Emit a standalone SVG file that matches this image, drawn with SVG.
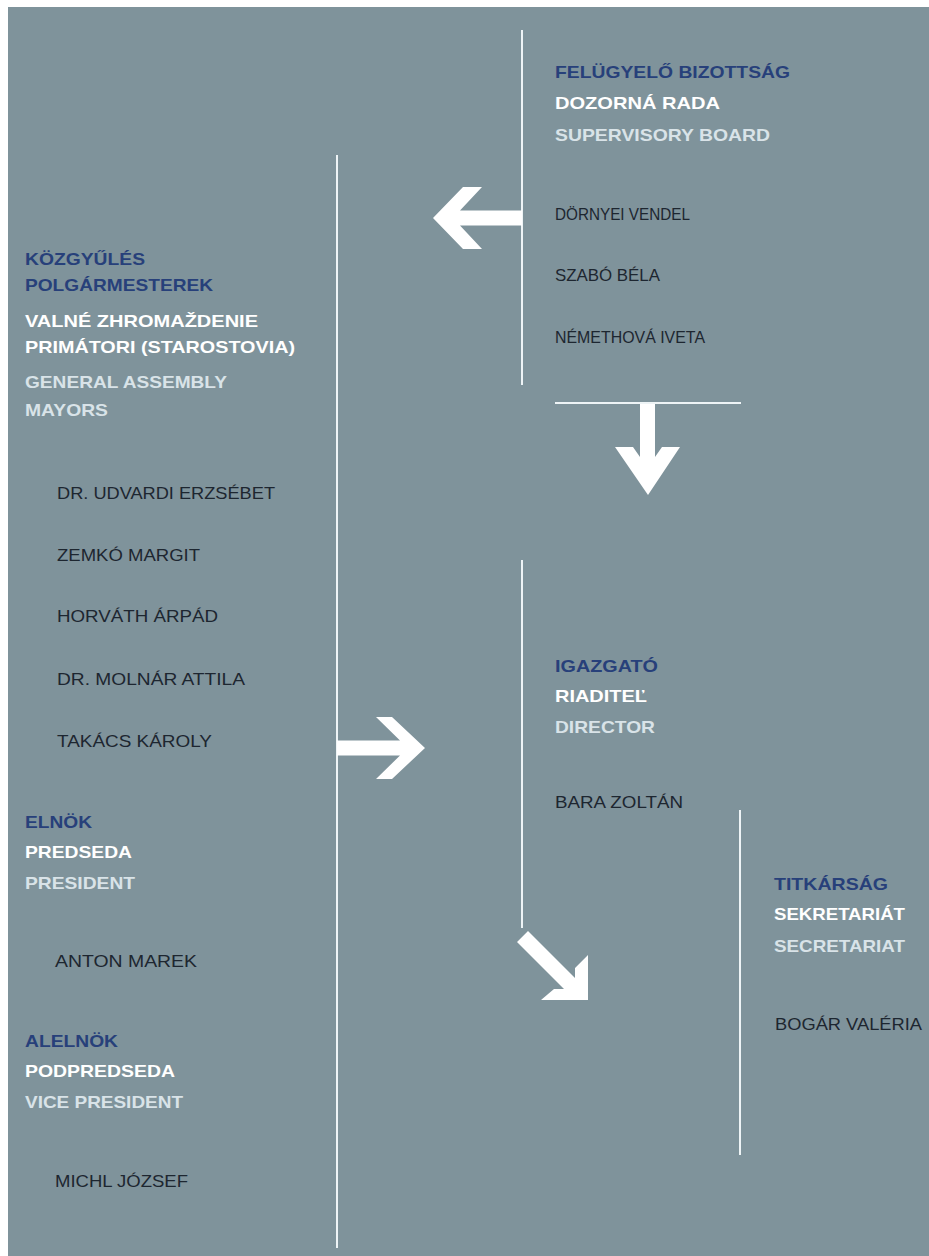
<svg xmlns="http://www.w3.org/2000/svg" width="929" height="1256" viewBox="0 0 929 1256">
<style>
text{font-family:"Liberation Sans",Arial,sans-serif;font-size:17px}
.h1{font-weight:bold;fill:#27407a}
.h2{font-weight:bold;fill:#ffffff}
.h3{font-weight:bold;fill:#d9e3e8}
.nm{fill:#1d2630}
.ln{stroke:#eef4f6;stroke-width:2;fill:none}
.ar{fill:#ffffff}
</style>
<rect width="929" height="1256" fill="#ffffff"/>
<rect x="8" y="7" width="921" height="1249" fill="#7f939b"/>
<g id="connectors">
<line class="ln" x1="522" y1="30" x2="522" y2="385"/>
<line class="ln" x1="337" y1="155" x2="337" y2="1248"/>
<line class="ln" x1="555" y1="403" x2="741" y2="403"/>
<line class="ln" x1="522" y1="560" x2="522" y2="928"/>
<line class="ln" x1="740" y1="810" x2="740" y2="1155"/>
<polygon class="ar" points="433,218 463,187 482,187 460,210.5 522,210.5 522,225.5 460,225.5 482,249 463,249"/>
<polygon class="ar" points="648,495 615,447 633,447 640,457 640,404 655,404 655,457 662,447 680,447"/>
<polygon class="ar" points="425,748 392,717 376,717 400,740.5 337,740.5 337,755.5 400,755.5 376,779 392,779"/>
<polygon class="ar" points="588,1000 588,955 575,968 575,978 528,931 517,942 564,989 554,989 541,1000"/>
</g>
<g id="supervisory">
<text class="h1" x="555" y="78" textLength="235" lengthAdjust="spacingAndGlyphs">FELÜGYELŐ BIZOTTSÁG</text>
<text class="h2" x="555" y="109" textLength="165" lengthAdjust="spacingAndGlyphs">DOZORNÁ RADA</text>
<text class="h3" x="555" y="141" textLength="215" lengthAdjust="spacingAndGlyphs">SUPERVISORY BOARD</text>
<text class="nm" x="555" y="220" textLength="135" lengthAdjust="spacingAndGlyphs">DÖRNYEI VENDEL</text>
<text class="nm" x="555" y="281" textLength="105" lengthAdjust="spacingAndGlyphs">SZABÓ BÉLA</text>
<text class="nm" x="555" y="343" textLength="150" lengthAdjust="spacingAndGlyphs">NÉMETHOVÁ IVETA</text>
</g>
<g id="assembly">
<text class="h1" x="25" y="265" textLength="120" lengthAdjust="spacingAndGlyphs">KÖZGYŰLÉS</text>
<text class="h1" x="25" y="291" textLength="188" lengthAdjust="spacingAndGlyphs">POLGÁRMESTEREK</text>
<text class="h2" x="25" y="327" textLength="233" lengthAdjust="spacingAndGlyphs">VALNÉ ZHROMAŽDENIE</text>
<text class="h2" x="25" y="353" textLength="270" lengthAdjust="spacingAndGlyphs">PRIMÁTORI (STAROSTOVIA)</text>
<text class="h3" x="25" y="388" textLength="202" lengthAdjust="spacingAndGlyphs">GENERAL ASSEMBLY</text>
<text class="h3" x="25" y="416" textLength="83" lengthAdjust="spacingAndGlyphs">MAYORS</text>
<text class="nm" x="57" y="499" textLength="218" lengthAdjust="spacingAndGlyphs">DR. UDVARDI ERZSÉBET</text>
<text class="nm" x="57" y="561" textLength="143" lengthAdjust="spacingAndGlyphs">ZEMKÓ MARGIT</text>
<text class="nm" x="57" y="622" textLength="161" lengthAdjust="spacingAndGlyphs">HORVÁTH ÁRPÁD</text>
<text class="nm" x="57" y="685" textLength="188" lengthAdjust="spacingAndGlyphs">DR. MOLNÁR ATTILA</text>
<text class="nm" x="57" y="747" textLength="155" lengthAdjust="spacingAndGlyphs">TAKÁCS KÁROLY</text>
</g>
<g id="president">
<text class="h1" x="25" y="828" textLength="67" lengthAdjust="spacingAndGlyphs">ELNÖK</text>
<text class="h2" x="25" y="858" textLength="107" lengthAdjust="spacingAndGlyphs">PREDSEDA</text>
<text class="h3" x="25" y="889" textLength="110" lengthAdjust="spacingAndGlyphs">PRESIDENT</text>
<text class="nm" x="55" y="967" textLength="142" lengthAdjust="spacingAndGlyphs">ANTON MAREK</text>
</g>
<g id="vicepresident">
<text class="h1" x="25" y="1047" textLength="93" lengthAdjust="spacingAndGlyphs">ALELNÖK</text>
<text class="h2" x="25" y="1077" textLength="150" lengthAdjust="spacingAndGlyphs">PODPREDSEDA</text>
<text class="h3" x="25" y="1108" textLength="158" lengthAdjust="spacingAndGlyphs">VICE PRESIDENT</text>
<text class="nm" x="55" y="1187" textLength="133" lengthAdjust="spacingAndGlyphs">MICHL JÓZSEF</text>
</g>
<g id="director">
<text class="h1" x="555" y="672" textLength="103" lengthAdjust="spacingAndGlyphs">IGAZGATÓ</text>
<text class="h2" x="555" y="702" textLength="92" lengthAdjust="spacingAndGlyphs">RIADITEĽ</text>
<text class="h3" x="555" y="733" textLength="100" lengthAdjust="spacingAndGlyphs">DIRECTOR</text>
<text class="nm" x="555" y="808" textLength="128" lengthAdjust="spacingAndGlyphs">BARA ZOLTÁN</text>
</g>
<g id="secretariat">
<text class="h1" x="774" y="890" textLength="114" lengthAdjust="spacingAndGlyphs">TITKÁRSÁG</text>
<text class="h2" x="774" y="920" textLength="131" lengthAdjust="spacingAndGlyphs">SEKRETARIÁT</text>
<text class="h3" x="774" y="952" textLength="131" lengthAdjust="spacingAndGlyphs">SECRETARIAT</text>
<text class="nm" x="775" y="1030" textLength="147" lengthAdjust="spacingAndGlyphs">BOGÁR VALÉRIA</text>
</g>
</svg>
